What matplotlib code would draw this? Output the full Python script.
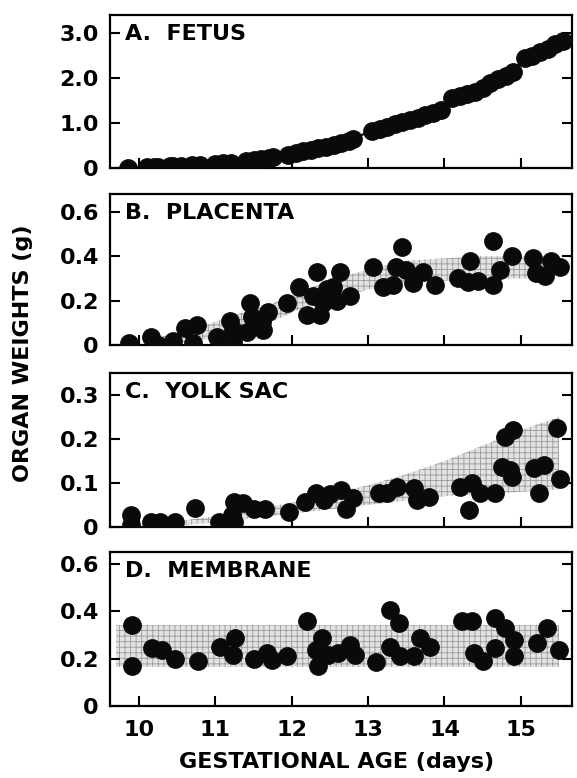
import matplotlib
matplotlib.use('Agg')
import matplotlib.pyplot as plt

plt.rcParams['font.family'] = ['DejaVu Sans']
plt.rcParams['font.weight'] = 'bold'
plt.rcParams['hatch.linewidth'] = 0.6

# A. fetus
fetus_age = [9.85, 10.1, 10.2, 10.25, 10.4, 10.45, 10.55, 10.7, 10.8, 11.0, 11.1, 11.2,
             11.4, 11.5, 11.6, 11.7, 11.75, 11.95, 12.05, 12.15, 12.25, 12.35, 12.45, 12.55,
             12.65, 12.75, 12.8, 13.05, 13.15, 13.25, 13.35, 13.45, 13.55, 13.65, 13.75, 13.85,
             13.95, 14.1, 14.2, 14.3, 14.4, 14.5, 14.6, 14.7, 14.8, 14.9, 15.05, 15.15, 15.25,
             15.35, 15.45, 15.55]
fetus_wt = [0.01, 0.02, 0.03, 0.03, 0.04, 0.04, 0.05, 0.06, 0.07, 0.1, 0.11, 0.12,
            0.15, 0.17, 0.19, 0.22, 0.24, 0.3, 0.33, 0.37, 0.4, 0.44, 0.47, 0.52,
            0.56, 0.61, 0.65, 0.83, 0.87, 0.92, 0.97, 1.02, 1.07, 1.12, 1.17, 1.22,
            1.28, 1.55, 1.6, 1.65, 1.7, 1.77, 1.9, 1.97, 2.05, 2.13, 2.45, 2.5, 2.57,
            2.65, 2.75, 2.83]

# B. placenta
plac_age = [9.87, 10.16, 10.25, 10.45, 10.6, 10.71, 10.76, 11.02, 11.19, 11.23, 11.23, 11.41,
            11.45, 11.48, 11.61, 11.62, 11.69, 11.94, 12.1, 12.2, 12.28, 12.33, 12.37, 12.41,
            12.46, 12.54, 12.59, 12.63, 12.76, 13.06, 13.19, 13.33, 13.37, 13.45, 13.5, 13.59,
            13.72, 13.88, 14.18, 14.31, 14.33, 14.44, 14.64, 14.64, 14.73, 14.88, 15.16, 15.2,
            15.31, 15.4, 15.51]
plac_wt = [0.01, 0.036, 0.0, 0.02, 0.077, 0.01, 0.09, 0.036, 0.11, 0.068, 0.014, 0.059,
           0.19, 0.126, 0.104, 0.068, 0.15, 0.19, 0.26, 0.135, 0.22, 0.33, 0.135, 0.19,
           0.25, 0.26, 0.2, 0.33, 0.22, 0.35, 0.26, 0.27, 0.35, 0.44, 0.34, 0.28,
           0.33, 0.27, 0.3, 0.285, 0.38, 0.29, 0.47, 0.27, 0.34, 0.4, 0.39, 0.325,
           0.31, 0.38, 0.35]
plac_band_x = [10.2, 10.8, 11.2, 11.7, 12.1, 12.5, 13.0, 13.5, 14.0, 14.5, 15.0, 15.45]
plac_band_lo = [0.0, 0.02, 0.05, 0.1, 0.16, 0.2, 0.25, 0.28, 0.29, 0.3, 0.3, 0.3]
plac_band_hi = [0.03, 0.08, 0.13, 0.18, 0.24, 0.29, 0.34, 0.38, 0.39, 0.4, 0.4, 0.4]

# C. yolk sac
yolk_age = [9.9, 9.9, 10.16, 10.28, 10.47, 10.73, 11.05, 11.22, 11.24, 11.24, 11.36, 11.5,
            11.65, 11.96, 12.18, 12.32, 12.42, 12.5, 12.64, 12.71, 12.8, 13.14, 13.25, 13.38,
            13.6, 13.64, 13.8, 14.2, 14.32, 14.36, 14.46, 14.66, 14.75, 14.79, 14.86, 14.88,
            14.9, 15.17, 15.24, 15.3, 15.47, 15.51]
yolk_wt = [0.027, 0.005, 0.012, 0.012, 0.012, 0.043, 0.012, 0.027, 0.057, 0.012, 0.054, 0.04,
           0.04, 0.034, 0.057, 0.077, 0.061, 0.075, 0.084, 0.04, 0.066, 0.077, 0.077, 0.09,
           0.089, 0.061, 0.068, 0.09, 0.039, 0.1, 0.077, 0.077, 0.137, 0.205, 0.13, 0.114,
           0.22, 0.134, 0.077, 0.14, 0.225, 0.11]
yolk_band_x = [10.6, 11.0, 11.5, 12.0, 12.5, 13.0, 13.5, 14.0, 14.5, 15.0, 15.5]
yolk_band_lo = [0.005, 0.01, 0.02, 0.03, 0.04, 0.05, 0.06, 0.07, 0.075, 0.08, 0.085]
yolk_band_hi = [0.015, 0.025, 0.04, 0.055, 0.075, 0.095, 0.12, 0.15, 0.185, 0.22, 0.25]

# D. membrane
memb_age = [9.91, 9.91, 10.17, 10.3, 10.47, 10.77, 11.06, 11.23, 11.26, 11.5, 11.67, 11.74,
            11.94, 12.2, 12.32, 12.35, 12.4, 12.47, 12.61, 12.76, 12.83, 13.1, 13.29, 13.29,
            13.4, 13.42, 13.6, 13.68, 13.81, 14.23, 14.36, 14.39, 14.51, 14.66, 14.66, 14.79,
            14.91, 14.91, 15.21, 15.34, 15.5]
memb_wt = [0.34, 0.17, 0.245, 0.237, 0.2, 0.19, 0.25, 0.215, 0.285, 0.2, 0.223, 0.195,
           0.21, 0.36, 0.235, 0.17, 0.285, 0.215, 0.223, 0.257, 0.215, 0.185, 0.405, 0.25,
           0.35, 0.21, 0.21, 0.285, 0.25, 0.357, 0.357, 0.223, 0.19, 0.37, 0.245, 0.33,
           0.28, 0.21, 0.265, 0.33, 0.235]
memb_band_x = [9.7, 15.5]
memb_band_lo = [0.165, 0.165]
memb_band_hi = [0.34, 0.34]

fig = plt.figure(figsize=(5.77, 7.78), dpi=100)
left, width = 110 / 577, 462 / 577
boxes = [(15, 168), (194, 345), (373, 527), (552, 706)]
axes = []
for top, bot in boxes:
    ax = fig.add_axes([left, (778 - bot) / 778, width, (bot - top) / 778])
    axes.append(ax)

dot = dict(marker='o', ms=12.5, color='#0a0a0a', linestyle='none', zorder=3)
band = dict(facecolor='#e2e2e2', edgecolor='#999999', hatch='+++', linewidth=0, zorder=1)

ax1, ax2, ax3, ax4 = axes
ax1.plot(fetus_age, fetus_wt, color='#0a0a0a', lw=1.5, zorder=2)
ax1.plot(fetus_age, fetus_wt, **dot)
ax1.set_ylim(0, 3.4)
ax1.set_yticks([0, 1, 2, 3])
ax1.set_yticklabels(['0', '1.0', '2.0', '3.0'])

ax2.fill_between(plac_band_x, plac_band_lo, plac_band_hi, **band)
ax2.plot(plac_age, plac_wt, **dot)
ax2.set_ylim(0, 0.68)
ax2.set_yticks([0, 0.2, 0.4, 0.6])
ax2.set_yticklabels(['0', '0.2', '0.4', '0.6'])

ax3.fill_between(yolk_band_x, yolk_band_lo, yolk_band_hi, **band)
ax3.plot(yolk_age, yolk_wt, **dot)
ax3.set_ylim(0, 0.35)
ax3.set_yticks([0, 0.1, 0.2, 0.3])
ax3.set_yticklabels(['0', '0.1', '0.2', '0.3'])

ax4.fill_between(memb_band_x, memb_band_lo, memb_band_hi, **band)
ax4.plot(memb_age, memb_wt, **dot)
ax4.set_ylim(0, 0.65)
ax4.set_yticks([0, 0.2, 0.4, 0.6])
ax4.set_yticklabels(['0', '0.2', '0.4', '0.6'])

titles = ['A.  FETUS', 'B.  PLACENTA', 'C.  YOLK SAC', 'D.  MEMBRANE']
for ax, t in zip(axes, titles):
    ax.set_xlim(9.62, 15.67)
    ax.set_xticks([10, 11, 12, 13, 14, 15])
    ax.tick_params(axis='both', direction='in', length=7, width=1.5, labelsize=16)
    ax.tick_params(axis='y', right=True, pad=8)
    ax.tick_params(axis='x', pad=10)
    for s in ax.spines.values():
        s.set_linewidth(1.6)
    ax.text(0.033, 0.94, t, transform=ax.transAxes, fontsize=16, fontweight='bold',
            va='top', ha='left', zorder=5)
    if ax is not ax4:
        ax.set_xticklabels([])

fig.text(0.04, 0.546, 'ORGAN WEIGHTS (g)', rotation=90, fontsize=16,
         fontweight='bold', ha='center', va='center')
fig.text(0.584, 0.021, 'GESTATIONAL AGE (days)', fontsize=16,
         fontweight='bold', ha='center', va='center')

plt.savefig('out.png', dpi=100)
